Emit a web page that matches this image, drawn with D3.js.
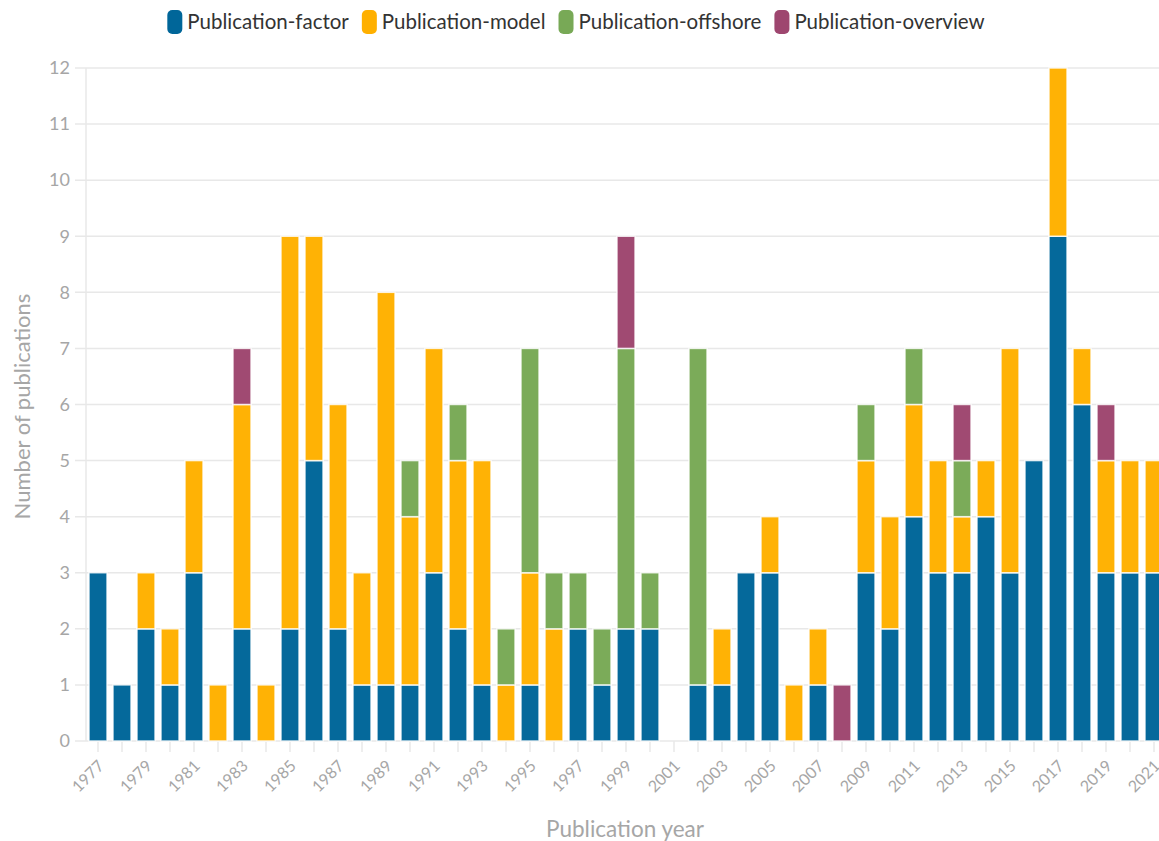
<html>
<head>
<script src="https://cdn.jsdelivr.net/npm/d3@7"></script>
<style>
  body { margin: 0; background: #fff; }
  text { font-family: "Lato", "Noto Sans", sans-serif; }
</style>
</head>
<body>
<script>
// data
let years = d3.range(1977, 2022).map(String);
let seriesNames = ["Publication-factor", "Publication-model", "Publication-offshore", "Publication-overview"];
let factor   = [3,1,2,1,3,0,2,0,2,5,2,1,1,1,3,2,1,0,1,0,2,1,2,2,0,1,1,3,3,0,1,0,3,2,4,3,3,4,3,5,9,6,3,3,3];
let model    = [0,0,1,1,2,1,4,1,7,4,4,2,7,3,4,3,4,1,2,2,0,0,0,0,0,0,1,0,1,1,1,0,2,2,2,2,1,1,4,0,3,1,2,2,2];
let offshore = [0,0,0,0,0,0,0,0,0,0,0,0,0,1,0,1,0,1,4,1,1,1,5,1,0,6,0,0,0,0,0,0,1,0,1,0,1,0,0,0,0,0,0,0,0];
let overview = [0,0,0,0,0,0,1,0,0,0,0,0,0,0,0,0,0,0,0,0,0,0,2,0,0,0,0,0,0,0,0,1,0,0,0,0,1,0,0,0,0,0,1,0,0];
let yTicks = d3.range(0, 13);
let colors = ["#006699", "#ffb000", "#78a956", "#9e466f"];

let screen = {width: 1159, height: 841};
let margin = {top: 68, left: 86, bottom: 100};
let step = 24;

let table = years.map(function(y, i) {
    return {year: y, "Publication-factor": factor[i], "Publication-model": model[i],
            "Publication-offshore": offshore[i], "Publication-overview": overview[i]};
});
let stacked = d3.stack().keys(seriesNames)(table);

let xScale = d3.scaleBand()
    .domain(years)
    .range([margin.left, margin.left + years.length * step])
    .paddingInner(0.25).paddingOuter(0.125);
let yScale = d3.scaleLinear()
    .domain([0, 12])
    .range([screen.height - margin.bottom, margin.top]);

let svg = d3.select("body").append("svg")
    .attr("width", screen.width)
    .attr("height", screen.height);

//grid
svg.append("g").selectAll("line")
    .data(yTicks).enter().append("line")
    .attr("x1", margin.left - 11).attr("x2", screen.width)
    .attr("y1", d => yScale(d)).attr("y2", d => yScale(d))
    .attr("stroke", "#e8e8e8").attr("stroke-width", 1.5);
svg.append("line")
    .attr("x1", margin.left).attr("x2", margin.left)
    .attr("y1", yScale(12)).attr("y2", yScale(0))
    .attr("stroke", "#e8e8e8").attr("stroke-width", 1.5);

//y labels
svg.append("g").selectAll("text")
    .data(yTicks).enter().append("text")
    .attr("x", margin.left - 16)
    .attr("y", d => yScale(d))
    .attr("dy", "0.35em")
    .attr("text-anchor", "end")
    .style("font-size", "18px")
    .style("fill", "#a6a6a6")
    .text(d => d);

//x ticks
let xAxis = svg.append("g")
    .attr("transform", "translate(0," + yScale(0) + ")")
    .call(d3.axisBottom(xScale).tickSize(11).tickFormat((d, i) => i % 2 == 0 ? d : ""));
xAxis.select(".domain").remove();
xAxis.selectAll(".tick line").attr("stroke", "#e8e8e8").attr("stroke-width", 1.5);
xAxis.selectAll(".tick text")
    .attr("text-anchor", "end")
    .attr("transform", "translate(3,22) rotate(-45)")
    .attr("dy", "0.35em").attr("y", 0)
    .style("font-size", "16px")
    .style("font-family", "Lato, sans-serif")
    .style("fill", "#a6a6a6");

//bars
svg.append("g").selectAll("g")
    .data(stacked).enter().append("g")
    .attr("fill", (d, i) => colors[i])
    .selectAll("rect")
    .data(d => d.filter(p => p[1] > p[0])).enter().append("rect")
    .attr("x", d => xScale(d.data.year))
    .attr("width", xScale.bandwidth())
    .attr("y", d => yScale(d[1]))
    .attr("height", d => yScale(d[0]) - yScale(d[1]))
    .attr("stroke", "#ffffff").attr("stroke-opacity", 0.8).attr("stroke-width", 1.5)
    .attr("fill-opacity", 0.98);

//axis titles
svg.append("text")
    .attr("transform", "translate(30," + (yScale(6) + 2) + ") rotate(-90)")
    .attr("text-anchor", "middle")
    .style("font-size", "22px").style("fill", "#a6a6a6")
    .text("Number of publications");
svg.append("text")
    .attr("x", 625).attr("y", 837)
    .attr("text-anchor", "middle")
    .style("font-size", "22.5px").style("fill", "#a6a6a6")
    .text("Publication year");

//legend
let legend = svg.append("g");
let lx = 0;
seriesNames.forEach(function(name, i) {
    let item = legend.append("g").attr("transform", "translate(" + lx + ",0)");
    item.append("rect").attr("x", 0).attr("y", 10).attr("width", 15).attr("height", 24)
        .attr("rx", 5).attr("fill", colors[i]);
    let t = item.append("text").attr("x", 20).attr("y", 22).attr("dy", "0.35em")
        .style("font-size", "20.5px").style("fill", "#333").text(name);
    lx += 20 + t.node().getComputedTextLength() + 13;
});
legend.attr("transform", "translate(" + (576 - (lx - 13) / 2) + ",0)");
</script>
</body>
</html>
